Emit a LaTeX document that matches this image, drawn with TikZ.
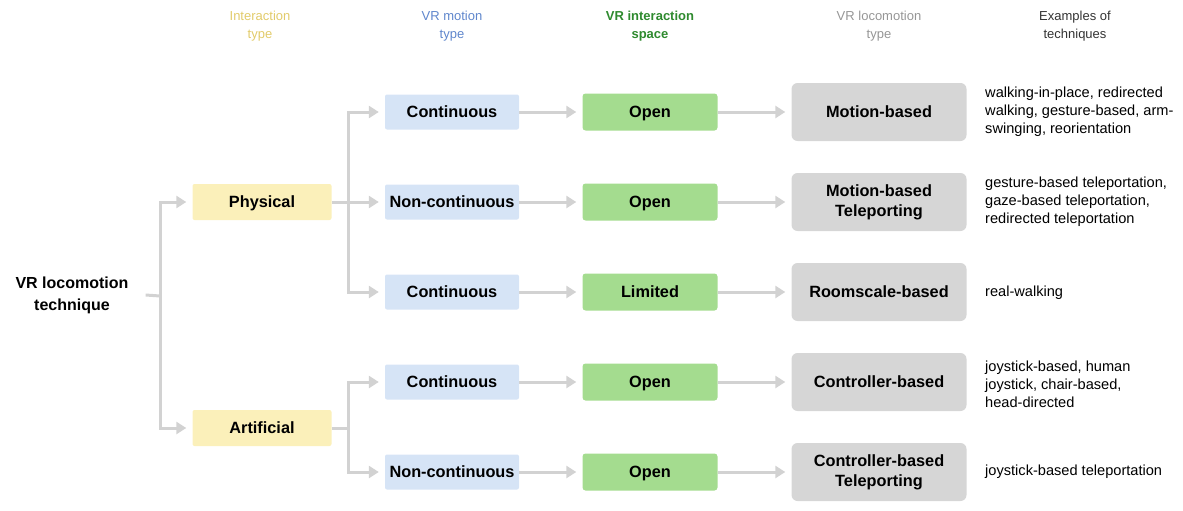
\documentclass[tikz,border=0pt]{standalone}
\usepackage{fontspec}
\setmainfont{Liberation Sans}
\usetikzlibrary{arrows.meta}
\definecolor{yelbox}{HTML}{FBF0BA}
\definecolor{bluebox}{HTML}{D6E4F6}
\definecolor{greenbox}{HTML}{A4DC8F}
\definecolor{graybox}{HTML}{D6D6D6}
\definecolor{linkgray}{HTML}{D2D2D2}
\definecolor{hdyellow}{HTML}{E2CB6A}
\definecolor{hdblue}{HTML}{5F86CC}
\definecolor{hdgreen}{HTML}{2E8A2E}
\definecolor{hdgray}{HTML}{969696}
\definecolor{hdtext}{HTML}{333333}
\tikzset{
  x=1pt, y=-1pt,
  boxlabel/.style={font=\fontsize{16.3}{20}\selectfont\bfseries, text=black, align=center, inner sep=0pt},
  oneline/.style={text height=12pt, text depth=0.4pt},
  intbox/.style={boxlabel, oneline, fill=yelbox, rounded corners=2pt, minimum width=139pt, minimum height=36pt},
  motbox/.style={boxlabel, oneline, fill=bluebox, rounded corners=2pt, minimum width=134pt, minimum height=35pt},
  spacebox/.style={boxlabel, oneline, fill=greenbox, rounded corners=3pt, minimum width=135pt, minimum height=37pt},
  locobox/.style={boxlabel, fill=graybox, rounded corners=6pt, minimum width=175pt, minimum height=58pt},
  header/.style={font=\fontsize{13}{18}\selectfont, align=center},
  examples/.style={font=\fontsize{14.6}{18}\selectfont, text=black, align=left, anchor=west, inner sep=0pt},
  link/.style={draw=linkgray, line width=3pt},
  linkarrow/.style={link, -{Triangle[length=10pt,width=12pt]}, shorten >=6pt},
}
\begin{document}
\begin{tikzpicture}
\useasboundingbox (0,0) rectangle (1183,511);

% column headers
\node[header, text=hdyellow] (h1) at (260,26) {Interaction\\type};
\node[header, text=hdblue] (h2) at (452,26) {VR motion\\type};
\node[header, text=hdgreen, font=\fontsize{13}{18}\selectfont\bfseries] (h3) at (650,26) {VR interaction\\space};
\node[header, text=hdgray] (h4) at (879,26) {VR locomotion\\type};
\node[header, text=hdtext] (h5) at (1075,26) {Examples of\\techniques};

% root
\node[boxlabel, font=\fontsize{16}{22}\selectfont\bfseries, inner xsep=17pt] (root) at (72,295) {VR locomotion\\technique};

% interaction type
\node[intbox] (phys) at (262,202) {Physical};
\node[intbox] (art) at (262,428) {Artificial};

% VR motion type
\node[motbox] (m1) at (452,112) {Continuous};
\node[motbox] (m2) at (452,202) {Non-continuous};
\node[motbox] (m3) at (452,292) {Continuous};
\node[motbox] (m4) at (452,382) {Continuous};
\node[motbox] (m5) at (452,472) {Non-continuous};

% VR interaction space
\node[spacebox] (s1) at (650,112) {Open};
\node[spacebox] (s2) at (650,202) {Open};
\node[spacebox] (s3) at (650,292) {Limited};
\node[spacebox] (s4) at (650,382) {Open};
\node[spacebox] (s5) at (650,472) {Open};

% VR locomotion type
\node[locobox, oneline] (l1) at (879,112) {Motion-based};
\node[locobox] (l2) at (879,202) {Motion-based\\Teleporting};
\node[locobox, oneline] (l3) at (879,292) {Roomscale-based};
\node[locobox, oneline] (l4) at (879,382) {Controller-based};
\node[locobox] (l5) at (879,472) {Controller-based\\Teleporting};

% examples of techniques
\node[examples] (e1) at (985,112) {walking-in-place, redirected\\walking, gesture-based, arm-\\swinging, reorientation};
\node[examples] (e2) at (985,202) {gesture-based teleportation,\\gaze-based teleportation,\\redirected teleportation};
\node[examples] (e3) at (985,293) {real-walking};
\node[examples] (e4) at (985,384) {joystick-based, human\\joystick, chair-based,\\head-directed};
\node[examples] (e5) at (985,472) {joystick-based teleportation};

% junction points of the tree
\coordinate (j0) at (160,296);
\coordinate (j1) at (348,202);
\coordinate (j2) at (348,428);

% connectors
\draw[link] (root.east) -- (j0);
\draw[linkarrow] (j0) |- (phys.west);
\draw[linkarrow] (j0) |- (art.west);

\draw[linkarrow] (phys.east) -- (m2.west);
\draw[linkarrow] (j1) |- (m1.west);
\draw[linkarrow] (j1) |- (m3.west);

\draw[link] (art.east) -- (j2);
\draw[linkarrow] (j2) |- (m4.west);
\draw[linkarrow] (j2) |- (m5.west);

\foreach \i in {1,...,5} {
  \draw[linkarrow] (m\i.east) -- (s\i.west);
  \draw[linkarrow] (s\i.east) -- (l\i.west);
}
\end{tikzpicture}
\end{document}
